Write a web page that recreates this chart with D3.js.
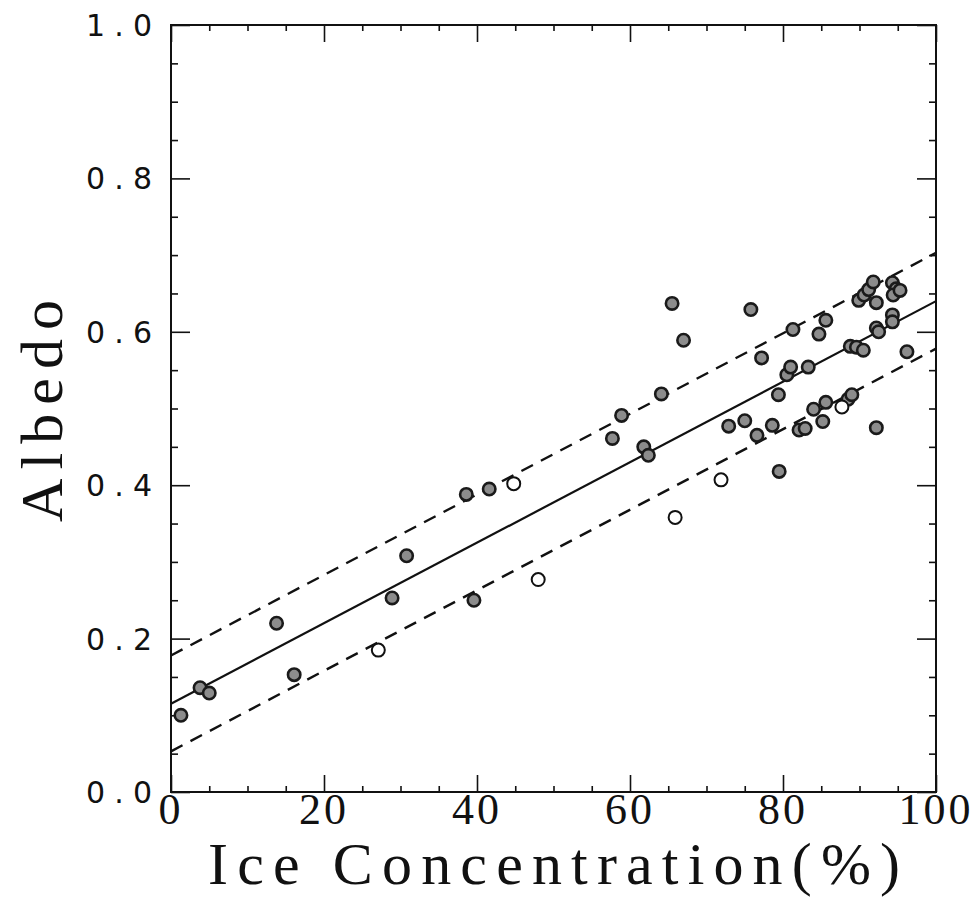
<!DOCTYPE html>
<html>
<head>
<meta charset="utf-8">
<script src="https://cdn.jsdelivr.net/npm/d3@7"></script>
<style>
  body { margin: 0; background: #fff; }
  svg { display: block; }
</style>
</head>
<body>
<svg id="chart" width="976" height="906"></svg>
<script>
// filled circles: [ice concentration %, albedo]
const filledPoints = [
  [1.3, 0.100], [3.8, 0.136], [5.0, 0.129], [13.8, 0.220], [16.1, 0.153],
  [28.9, 0.253], [30.8, 0.308], [38.6, 0.388], [39.6, 0.250], [41.6, 0.395],
  [57.7, 0.461], [58.9, 0.491], [61.8, 0.450], [62.4, 0.439], [64.1, 0.519],
  [65.5, 0.637], [67.0, 0.589], [72.9, 0.477], [75.0, 0.484], [75.8, 0.629],
  [76.6, 0.465], [77.2, 0.566], [78.6, 0.478], [79.4, 0.518], [79.5, 0.418],
  [80.5, 0.544], [81.0, 0.554], [81.3, 0.603], [82.1, 0.472], [82.9, 0.474],
  [83.3, 0.554], [84.0, 0.499], [84.7, 0.597], [85.2, 0.483], [85.6, 0.508],
  [85.6, 0.615], [88.5, 0.512], [89.0, 0.518], [88.8, 0.581], [89.6, 0.580],
  [90.5, 0.576], [89.9, 0.641], [90.6, 0.648], [91.2, 0.655], [91.8, 0.665],
  [92.2, 0.638], [92.2, 0.605], [92.5, 0.600], [92.2, 0.475], [94.3, 0.664],
  [94.8, 0.656], [94.4, 0.648], [95.3, 0.654], [94.3, 0.622], [94.3, 0.613],
  [96.2, 0.574]
];

// open circles
const openPoints = [
  [27.1, 0.185], [44.8, 0.402], [48.0, 0.277], [65.9, 0.358], [71.9, 0.407], [87.7, 0.502]
];

// regression line and the two dashed bounds, at x = 0 and x = 100
const lineX = [0, 100];
const fitY = [0.115, 0.640];
const upperY = [0.178, 0.703];
const lowerY = [0.053, 0.578];

const xTicks = [0, 20, 40, 60, 80, 100];
const yTicks = [0.0, 0.2, 0.4, 0.6, 0.8, 1.0];
const yTickLabels = ["0 . 0", "0 . 2", "0 . 4", "0 . 6", "0 . 8", "1 . 0"];

const svg = d3.select("#chart");
const plot = { left: 171, right: 936, top: 25, bottom: 792 };

const x = d3.scaleLinear().domain([0, 100]).range([plot.left, plot.right]);
const y = d3.scaleLinear().domain([0, 1]).range([plot.bottom, plot.top]);

// frame
svg.append("rect")
  .attr("x", plot.left).attr("y", plot.top)
  .attr("width", plot.right - plot.left).attr("height", plot.bottom - plot.top)
  .style("fill", "none").style("stroke", "#111").style("stroke-width", 2);

// ticks, all pointing inward
const xMinor = x.ticks(20).filter(d => !xTicks.includes(d));
const yMinor = y.ticks(20).filter(d => !yTicks.some(t => Math.abs(t - d) < 1e-9));

function tickAxis(axisFn, scale, values, size, transform) {
  svg.append("g")
    .attr("transform", transform)
    .call(axisFn(scale).tickValues(values).tickSize(-size).tickFormat(""))
    .call(g => g.select(".domain").remove())
    .call(g => g.selectAll("line").style("stroke", "#111").style("stroke-width", 1.6));
}
tickAxis(d3.axisBottom, x, xTicks, 17, `translate(0,${plot.bottom})`);
tickAxis(d3.axisBottom, x, xMinor, 6, `translate(0,${plot.bottom})`);
tickAxis(d3.axisTop, x, xTicks, 17, `translate(0,${plot.top})`);
tickAxis(d3.axisTop, x, xMinor, 6, `translate(0,${plot.top})`);
tickAxis(d3.axisLeft, y, yTicks, 19, `translate(${plot.left},0)`);
tickAxis(d3.axisLeft, y, yMinor, 7, `translate(${plot.left},0)`);
tickAxis(d3.axisRight, y, yTicks, 19, `translate(${plot.right},0)`);
tickAxis(d3.axisRight, y, yMinor, 7, `translate(${plot.right},0)`);

// tick labels
svg.append("g").selectAll("text")
  .data(xTicks)
  .enter().append("text")
  .attr("x", d => x(d))
  .attr("y", 824)
  .attr("text-anchor", "middle")
  .style("font-family", "'Liberation Serif', serif")
  .style("font-size", "44px")
  .style("letter-spacing", "3px")
  .style("fill", "#111")
  .text(d => d);

svg.append("g").selectAll("text")
  .data(yTicks)
  .enter().append("text")
  .attr("x", 152)
  .attr("y", d => y(d) + 11)
  .attr("text-anchor", "end")
  .attr("textLength", 66)
  .attr("lengthAdjust", "spacing")
  .style("font-family", "'DejaVu Sans', sans-serif")
  .style("font-size", "30px")
  .style("fill", "#111")
  .text((d, i) => yTickLabels[i]);

// axis titles
svg.append("text")
  .attr("x", 208).attr("y", 884)
  .attr("textLength", 692)
  .attr("lengthAdjust", "spacing")
  .style("font-family", "'Liberation Serif', serif")
  .style("font-size", "60px")
  .style("fill", "#111")
  .text("Ice Concentration(%)");

svg.append("text")
  .attr("transform", "translate(62,522) rotate(-90)")
  .attr("textLength", 222)
  .attr("lengthAdjust", "spacing")
  .style("font-family", "'Liberation Serif', serif")
  .style("font-size", "60px")
  .style("fill", "#111")
  .text("Albedo");

// lines
const line = d3.line().x(d => x(d[0])).y(d => y(d[1]));
svg.append("path")
  .datum(lineX.map((v, i) => [v, fitY[i]]))
  .attr("d", line)
  .style("fill", "none").style("stroke", "#111").style("stroke-width", 2.2);

[upperY, lowerY].forEach(ys => {
  svg.append("path")
    .datum(lineX.map((v, i) => [v, ys[i]]))
    .attr("d", line)
    .style("fill", "none").style("stroke", "#111").style("stroke-width", 2.4)
    .style("stroke-dasharray", "13,9");
});

// points
svg.append("g").selectAll("circle")
  .data(filledPoints)
  .enter().append("circle")
  .attr("cx", d => x(d[0]))
  .attr("cy", d => y(d[1]))
  .attr("r", 6.2)
  .style("fill", "#8c8c8c")
  .style("stroke", "#1a1a1a")
  .style("stroke-width", 2.6);

svg.append("g").selectAll("circle")
  .data(openPoints)
  .enter().append("circle")
  .attr("cx", d => x(d[0]))
  .attr("cy", d => y(d[1]))
  .attr("r", 6.5)
  .style("fill", "#fff")
  .style("stroke", "#111")
  .style("stroke-width", 2);
</script>
</body>
</html>
